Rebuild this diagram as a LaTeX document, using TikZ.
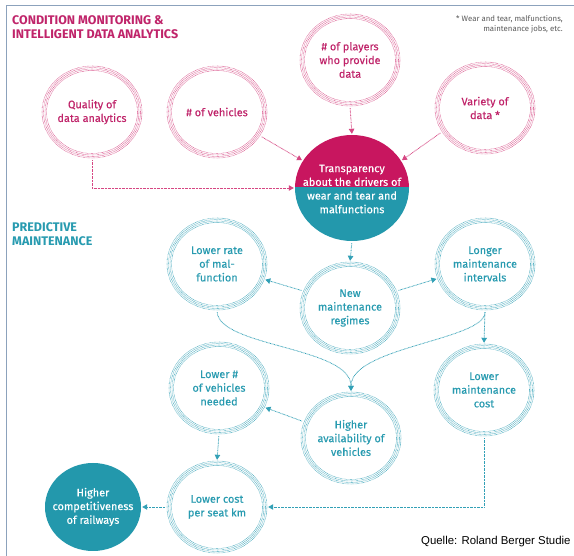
\documentclass[tikz,border=0pt]{standalone}
\usepackage{fontspec}
\setmainfont{Fira Sans}
\newfontfamily\quellefont{Liberation Sans}
\newfontfamily\ringfont[FakeBold=0.25]{Fira Sans}
\usetikzlibrary{shapes.geometric,arrows.meta,calc}
\definecolor{magfill}{RGB}{200,22,95}
\definecolor{tealfill}{RGB}{35,152,172}
\definecolor{magring}{RGB}{214,70,130}
\definecolor{tealring}{RGB}{50,160,182}
\definecolor{magtext}{RGB}{192,36,106}
\definecolor{tealtext}{RGB}{40,155,176}
\definecolor{framec}{RGB}{140,162,188}
\definecolor{notec}{RGB}{90,90,90}
\newcommand\myrings[2]{%
  \foreach \d in {0,1.5,3,4.5}{%
    \draw[#2, line width=0.55pt, dash pattern=on 0.55pt off 0.7pt]
      (#1.center) ellipse [x radius={50-\d}, y radius={46-\d}];}}
\begin{document}
\begin{tikzpicture}[x=1pt,y=-1pt,
  ringnode/.style={ellipse, minimum width=100pt, minimum height=92pt, inner sep=0pt},
  ringlab/.style={font=\ringfont\fontsize{10.9}{13.7}\selectfont, align=center, inner sep=0pt},
  headm/.style={anchor=base west, inner sep=0pt, font=\fontsize{12.5}{14}\bfseries, text=magtext},
  headt/.style={anchor=base west, inner sep=0pt, font=\fontsize{12.5}{14}\bfseries, text=tealtext},
  notetext/.style={anchor=base east, inner sep=0pt, font=\fontsize{7.8}{9}\selectfont, text=notec},
  conn/.style={line width=0.8pt, dash pattern=on 0.7pt off 0.7pt,
    -{Triangle[width=5.5pt,length=5pt]}, shorten <=2pt, shorten >=1pt},
  connm/.style={conn, magring},
  connt/.style={conn, tealring}]
\useasboundingbox (0,0) rectangle (574,556);
\fill[white] (0,0) rectangle (574,556);
% frame
\draw[framec, line width=1pt] (6,556) coordinate (fbl) -- (6,5.5) coordinate (ftl) -- (574,5.5) coordinate (ftr);
% headings
\node[headm] (h1) at (12,25) {CONDITION MONITORING \&};
\node[headm] (h2) at (12,39) {INTELLIGENT DATA ANALYTICS};
\node[headt] (h3) at (12,232) {PREDICTIVE};
\node[headt] (h4) at (12,246) {MAINTENANCE};
% footnote
\node[notetext] (n1) at (563,22) {* Wear and tear, malfunctions,};
\node[notetext] (n2) at (563,32) {maintenance jobs, etc.};
% magenta rings
\node[ringnode] (qual) at (92,112) {};
\myrings{qual}{magring}
\node[ringlab, text=magtext] (qualt) at (qual.center) {Quality of\\data analytics};
\node[ringnode] (veh) at (217,112) {};
\myrings{veh}{magring}
\node[ringlab, text=magtext] (veht) at (veh.center) {\# of vehicles};
\node[ringnode] (play) at (350,60) {};
\myrings{play}{magring}
\node[ringlab, text=magtext] (playt) at (play.center) {\# of players\\who provide\\data};
\node[ringnode] (var) at (485,108) {};
\myrings{var}{magring}
\node[ringlab, text=magtext] (vart) at (var.center) {Variety of\\data *};
% transparency
\node[ellipse, minimum width=114pt, minimum height=106pt, inner sep=0pt] (trans) at (352,188) {};
\begin{scope}
  \clip (290,120) rectangle (420,188);
  \fill[magfill] (trans.center) ellipse [x radius=57, y radius=53];
\end{scope}
\begin{scope}
  \clip (290,188) rectangle (420,250);
  \fill[tealfill] (trans.center) ellipse [x radius=57, y radius=53];
\end{scope}
\node[ringlab, text=white] (transt) at ([yshift=-1pt]trans.center) {Transparency\\about the drivers of\\wear and tear and\\malfunctions};
% teal rings
\node[ringnode] (lowrate) at (217,264) {};
\myrings{lowrate}{tealring}
\node[ringlab, text=tealtext] (lowratet) at (lowrate.center) {Lower rate\\of mal-\\function};
\node[ringnode] (newm) at (350,308) {};
\myrings{newm}{tealring}
\node[ringlab, text=tealtext] (newmt) at (newm.center) {New\\maintenance\\regimes};
\node[ringnode] (longer) at (485,264) {};
\myrings{longer}{tealring}
\node[ringlab, text=tealtext] (longert) at (longer.center) {Longer\\maintenance\\intervals};
\node[ringnode] (lowmc) at (484,390) {};
\myrings{lowmc}{tealring}
\node[ringlab, text=tealtext] (lowmct) at (lowmc.center) {Lower\\maintenance\\cost};
\node[ringnode] (higher) at (351,438) {};
\myrings{higher}{tealring}
\node[ringlab, text=tealtext] (highert) at (higher.center) {Higher\\availability of\\vehicles};
\node[ringnode] (lownum) at (219,388) {};
\myrings{lownum}{tealring}
\node[ringlab, text=tealtext] (lownumt) at (lownum.center) {Lower \#\\of vehicles\\needed};
\node[ringnode] (lowcost) at (217,507) {};
\myrings{lowcost}{tealring}
\node[ringlab, text=tealtext] (lowcostt) at (lowcost.center) {Lower cost\\per seat km};
\node[ellipse, fill=tealfill, minimum width=96pt, minimum height=88pt, inner sep=0pt] (comp) at (93,507) {};
\node[ringlab, text=white] (compt) at (comp.center) {Higher\\competitiveness\\of railways};
% connectors
\draw[connm] (play.south) -- (trans.north);
\draw[connm] (var.-151) -- (trans.29);
\draw[connm] (veh.-29) -- (trans.151);
\draw[connm] (qual.south) |- (trans.west);
\draw[connt] (trans.south) -- (newm.north);
\draw[connt] (newm.160) -- (lowrate.-18);
\draw[connt] (newm.20) -- (longer.-163);
\draw[connt] (longer.south) -- (lowmc.north);
\draw[connt] (lowrate.south) .. controls +(3,37) and +(0,-45) .. (higher.north);
\draw[connt] (longer.south) .. controls +(0,30) and +(0,-45) .. (higher.north);
\draw[connt] (higher.161) -- (lownum.-23);
\draw[connt] (lownum.south) -- (lowcost.north);
\draw[connt] (lowmc.south) |- (lowcost.east);
\draw[connt] (lowcost.west) -- (comp.east);
% source
\node[anchor=base west, inner sep=0pt, font=\quellefont\fontsize{11.4}{13}\selectfont] (src) at (421,544) {Quelle: Roland Berger Studie};
\end{tikzpicture}
\end{document}
